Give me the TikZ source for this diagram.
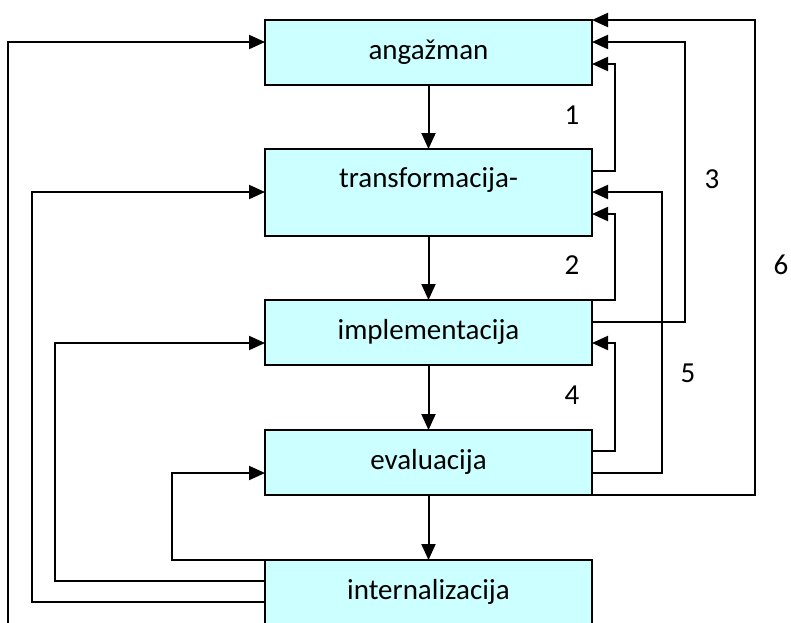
\documentclass[tikz,border=0pt]{standalone}
\usepackage{fontspec}
\setmainfont{Carlito}
\usepackage{xcolor}
\usepackage{tikz}
\usetikzlibrary{positioning,calc,arrows.meta}
\definecolor{stagecyan}{HTML}{CCFFFF}

\tikzset{
    stage/.style={draw, fill=stagecyan, line width=2pt, minimum width=327pt, minimum height=65pt,
        inner sep=0pt, outer sep=0pt, text height=20pt, text depth=7pt, font=\fontsize{29}{34}\selectfont},
    flow/.style={line width=2pt, -{Triangle[length=16pt,width=14pt]}},
    num/.style={font=\fontsize{29}{34}\selectfont}
}

\begin{document}
\begin{tikzpicture}[x=1pt, y=-1pt]
    \useasboundingbox (0,0) rectangle (791,622);
    \clip (0,0) rectangle (791,622);

    % Stages
    \node [stage] (eng) at (428.5,52.5) {angažman};
    \node [stage, minimum height=87pt, text depth=31pt, below=64pt of eng] (trans) {transformacija-};
    \node [stage, below=64pt of trans] (impl) {implementacija};
    \node [stage, below=65pt of impl] (eval) {evaluacija};
    \node [stage, below=65pt of eval] (intern) {internalizacija};

    % Main flow
    \foreach \a/\b in {eng/trans, trans/impl, impl/eval, eval/intern}
        \draw [flow] (\a) -- (\b);

    % Feedback, right
    \draw [flow] ([yshift=-22pt]trans.north east) -- ++(23,0) |- ([yshift=-44pt]eng.north east);
    \draw [flow] ([yshift=-22pt]impl.north east) -- ++(93,0) |- ([yshift=-22pt]eng.north east);
    \draw [flow] (eval.south east) -- ++(163,0) |- (eng.north east);
    \draw [flow] (impl.north east) -- ++(23,0) |- ([yshift=-65pt]trans.north east);
    \draw [flow] ([yshift=-43pt]eval.north east) -- ++(70,0) |- ([yshift=-43pt]trans.north east);
    \draw [flow] ([yshift=-21pt]eval.north east) -- ++(23,0) |- ([yshift=-43pt]impl.north east);

    % Feedback, left
    \draw [flow] ([yshift=-64pt]intern.north west) -- ++(-257,0) |- ([yshift=-22pt]eng.north west);
    \draw [flow] ([yshift=-42pt]intern.north west) -- ++(-233,0) |- ([yshift=-43pt]trans.north west);
    \draw [flow] ([yshift=-21pt]intern.north west) -- ++(-210,0) |- ([yshift=-43pt]impl.north west);
    \draw [flow] (intern.north west) -- ++(-93,0) |- ([yshift=-43pt]eval.north west);

    % Loop numbers
    \node [num] (n1) at (572,115) {1};
    \node [num] (n2) at (572,265) {2};
    \node [num] (n3) at (712,179) {3};
    \node [num] (n4) at (572,395) {4};
    \node [num] (n5) at (688,373) {5};
    \node [num] (n6) at (781,265) {6};
\end{tikzpicture}
\end{document}
